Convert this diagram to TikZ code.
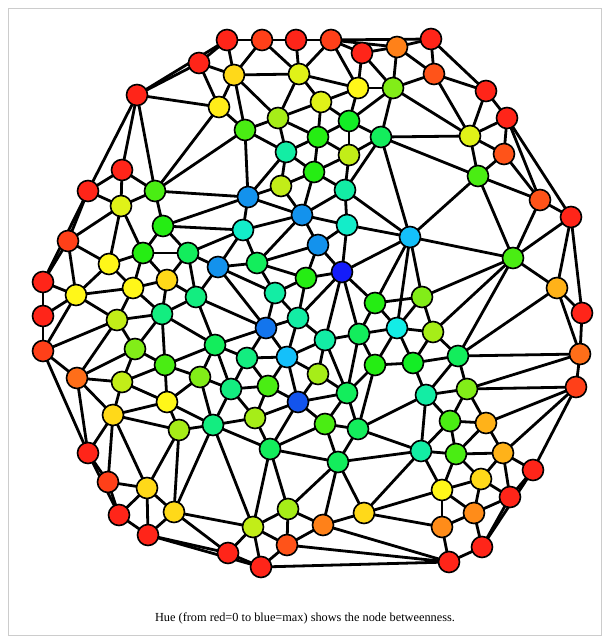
\PassOptionsToPackage{rgb}{xcolor}
\documentclass[tikz,border=0pt]{standalone}
\usepackage{fontspec}
\setmainfont{Liberation Serif}
\usetikzlibrary{backgrounds}
\definecolor{h3}{Hsb}{3,0.9,1}
\definecolor{h10}{Hsb}{10,0.9,1}
\definecolor{h15}{Hsb}{15,0.9,1}
\definecolor{h22}{Hsb}{22,0.9,1}
\definecolor{h25}{Hsb}{27,0.9,1}
\definecolor{h30}{Hsb}{30,0.9,1}
\definecolor{h40}{Hsb}{40,0.9,1}
\definecolor{h50}{Hsb}{50,0.9,1}
\definecolor{h55}{Hsb}{55,0.9,1}
\definecolor{h58}{Hsb}{58,0.9,1}
\definecolor{h65}{Hsb}{65,0.9,0.95}
\definecolor{h72}{Hsb}{72,0.9,0.93}
\definecolor{h80}{Hsb}{80,0.9,0.93}
\definecolor{h90}{Hsb}{90,0.9,0.93}
\definecolor{h105}{Hsb}{105,0.92,0.93}
\definecolor{h115}{Hsb}{115,0.92,0.93}
\definecolor{h125}{Hsb}{125,0.92,0.93}
\definecolor{h140}{Hsb}{140,0.92,0.93}
\definecolor{h150}{Hsb}{150,0.92,0.93}
\definecolor{h160}{Hsb}{160,0.92,0.93}
\definecolor{h170}{Hsb}{170,0.92,0.93}
\definecolor{h178}{Hsb}{178,0.92,0.93}
\definecolor{h195}{Hsb}{195,0.92,0.98}
\definecolor{h205}{Hsb}{205,0.92,0.93}
\definecolor{h215}{Hsb}{213,0.92,0.93}
\definecolor{h225}{Hsb}{222,0.92,0.93}
\definecolor{h238}{Hsb}{238,0.92,0.98}
\begin{document}
\begin{tikzpicture}[x=1pt,y=-1pt,
  nd/.style={circle,draw=black,line width=1.6pt,minimum size=21pt,inner sep=0pt,fill=h#1},
  edge/.style={line width=2.8pt,black}]
\useasboundingbox (0,0) rectangle (610,644);
\draw[black!20,line width=0.8pt] (8.5,8.5) rectangle (601.5,635.5);
\foreach \n/\x/\y/\h in {
 t1/227/40/3, t2/262/40/10, t3/296/40/3, t4/331/40/10, t5/362/53/3, t6/397/47/25,
 t7/431/39/3, t8/434/74/15, t9/486/91/3, t10/507/118/3, a1/199/63/3, a2/137/95/3,
 b1/234/75/50, b2/299/74/65, b3/358/88/58, b4/393/88/90, b5/470/136/65, b6/504/154/15, b7/478/176/105,
 c1/219/107/55, c2/278/118/80, c3/321/102/65, c4/349/121/125, c5/381/137/140, c6/245/130/105,
 c7/318/137/115, c8/349/155/72, c9/286/152/160, c10/314/172/115, c11/281/186/72, c12/345/190/160,
 c13/248/197/205, c14/302/215/205, c15/347/225/170, c16/243/230/170, c17/318/245/205, c18/410/237/195,
 c19/342/272/238, c20/306/278/115, c21/257/263/140, c22/218/267/205,
 l1/122/170/3, l2/88/191/3, l3/155/191/105, l4/121/206/65, l5/163/226/115, l6/68/241/10,
 l7/143/253/115, l8/188/253/140, l9/109/264/58, l10/43/282/3, l11/167/280/50, l12/133/288/58,
 l13/76/295/58, l14/196/297/150, l15/43/316/3, l16/117/320/72, l17/162/314/150, l18/43/351/10,
 l19/135/349/90, l20/215/345/140, l21/165/365/105, l22/200/377/90, l23/77/378/22, l24/122/382/72,
 l25/167/402/58, l26/113/415/50, l27/179/430/80, l28/213/425/150,
 m1/275/293/160, m2/375/303/115, m3/266/328/215, m4/298/318/160, m5/325/340/160, m6/359/334/140,
 m7/397/328/178, m8/422/297/90, m9/433/332/80, m10/413/363/125, m11/458/356/140, m12/426/395/160,
 m13/467/389/90, m14/231/389/150, m15/247/358/150, m16/287/357/195, m17/318/374/80, m18/375/365/115,
 m19/268/386/105, m20/298/402/225, m21/347/393/140, m22/255/418/80, m23/325/424/105, m24/358/429/140,
 m25/270/449/140, m26/338/462/140,
 r1/540/200/15, r2/571/217/3, r3/513/258/105, r4/557/288/40, r5/582/313/3, r6/580/354/22, r7/576/387/10,
 s1/450/421/105, s2/486/423/40, s3/421/451/160, s4/456/454/105, s5/503/453/40, s6/533/470/3,
 s7/481/479/50, s8/442/490/58, s9/510/497/3, s10/474/513/30, s11/442/527/30, s12/482/547/3, s13/449/562/3,
 u1/288/509/80, u2/253/527/72, u3/323/525/25, u4/364/513/50, u5/287/545/15, u6/228/553/3, u7/261/567/3,
 v1/88/453/3, v2/108/482/10, v3/147/488/50, v4/119/515/3, v5/174/512/50, v6/148/535/3}
 \node[nd=\h] (\n) at (\x,\y) {};
\begin{scope}[on background layer]
\foreach \a/\b in {
 t1/t2, t2/t3, t3/t4, t4/t5, t4/t6, t4/t7, t5/t6, t6/t7, t6/t8, t7/t8, t7/t9, t8/t9, t8/b4, t8/b5, t6/b4,
 t5/b3, t5/b4, t4/b3, t4/b2, t3/b2, t2/b2, t2/b1, t1/b1, t1/a1, t1/a2, a1/a2, a1/b1, a1/c1, a2/c1, b1/c1,
 b1/b2, b1/c2, b1/c6, c1/c6, c1/l3, c6/l3, c6/c2, c6/c13, c6/c9, b2/c2, b2/b3, b2/c3, b3/b4, b3/c3,
 b3/c4, b4/c4, b4/c5, b4/b5, c5/b5, t9/t10, t9/b5, t10/b5, t10/b6, b5/b6, b5/b7, b6/b7, t10/r1,
 t10/r2, b6/r1, b7/r1, b7/r3, r1/r2, r1/r3, r2/r3, r2/r4, r2/r5, r3/r4, r3/c18, b7/c18, c5/b7, c5/c18,
 c2/c3, c2/c7, c2/c9, c3/c4, c3/c7, c4/c7, c4/c8, c4/c5, c5/c8, c5/c12, c7/c8, c7/c9, c7/c10, c8/c10,
 c8/c12, c9/c10, c9/c11, c10/c11, c10/c14, c10/c12, c12/c14, c12/c15, c12/c18, c13/c14, c13/c16,
 c13/c9, c13/c11, c11/c14, c14/c15, c14/c16, c14/c17, c14/c21, c15/c17, c15/c18, c15/c19, c16/c22,
 c16/c21, c16/l5, c16/l8, c13/l3, c13/l5, c17/c21, c17/c20, c17/c19, c19/c20, c19/c18, c19/m2,
 c19/m4, c19/m5, c19/m6, c21/c22, c21/c20, c21/m1, c22/l14, c22/m1, c22/m3, c20/m1, c20/m4, c18/m2,
 c18/m7, c18/m8, r3/m8, r3/m9, r3/m11,
 a2/l1, a2/l2, a2/l3, l1/l2, l1/l3, l1/l4, l2/l4, l3/l4, l2/l6, l6/l10, l2/l10, l4/l6, l4/l7, l4/l9,
 l3/l5, l5/l7, l5/l8, l6/l9, l6/l13, l7/l9, l7/l8, l7/l11, l7/l12, l9/l12, l9/l13, l10/l13, l8/c22,
 l8/l14, l12/l13, l11/l12, l11/l14, l8/l11,
 l10/l15, l13/l15, l13/l16, l13/l18, l15/l18, l12/l16, l12/l17, l11/l17, l14/l17, l16/l17, l16/l18,
 l16/l19, l16/l23, l17/l19, l17/l21, l17/l20, l14/l20, l14/m3, l18/l23, l18/v1, l23/v1, l23/l19,
 l23/l24, l23/l26, l19/l21, l19/l24, l21/l20, l21/l22, l21/l25, l21/l24, l20/l22, l20/m3, l20/m15,
 l20/m14, l22/m14, l22/l25, l22/l28, l24/l25, l24/l26, l25/l26, l25/l27, l25/l28, l26/l27, l26/v1,
 l26/v2, l26/v3, l27/l28, l27/v3, l27/v5, l28/v5, l28/u2, l28/m22, l28/m25, l28/m14,
 v1/v2, v2/v4, v1/v4, v2/v3, v3/v4, v3/v5, v3/v6, v4/v6, v5/v6, v5/u6, v6/u6, v6/u7, v5/u2,
 m1/m3, m1/m4, m3/m4, m3/m15, m3/m16, m4/m16, m4/m5, m5/m16, m5/m17, m5/m6, m5/m21, m6/m2, m6/m7,
 m6/m18, m6/m21, m2/m7, m2/m8, m7/m8, m7/m9, m7/m10, m7/m18, m8/m9, m9/m10, m9/m11, m10/m11,
 m10/m12, m10/m18, m11/m12, m11/m13, m11/r4, m11/r6, m13/r6, m12/m13, m12/s1, m12/s3, m12/m24,
 m13/s1, m13/s2, m13/r7, m16/m15, m16/m19, m16/m17, m16/m20, m15/m14, m15/m19, m14/m19, m14/m22,
 m19/m20, m19/m22, m17/m20, m17/m21, m20/m21, m20/m22, m20/m23, m20/m25, m21/m23, m21/m24, m21/m18,
 m18/m24, m22/m25, m23/m24, m23/m25, m23/m26, m24/m26, m25/m26, m25/u1, m25/u2, m24/s3, m26/s3,
 m26/u1, m26/u3, m26/u4,
 r4/r5, r4/r6, r5/r6, r6/r7, r7/s2, r7/s5, r7/s6,
 s1/s2, s1/s3, s1/s4, s2/s4, s2/s5, s3/s4, s3/s8, s4/s5, s4/s7, s4/s8, s5/s7, s5/s6, s5/s9, s6/s9,
 s6/s12, s9/s12, s7/s8, s7/s9, s7/s10, s8/s10, s8/s11, s9/s10, s10/s11, s10/s12, s11/s13, s12/s13,
 u1/u2, u1/u3, u1/u5, u2/u5, u2/u6, u2/u7, u5/u7, u3/u5, u3/u4, u6/u7, u4/s3, u4/s8, u4/s11,
 u3/s13, u5/s13, u7/s13}
 \draw[edge] (\a.center) -- (\b.center);
\end{scope}
\node[font=\fontsize{12.3}{14}\selectfont] (cap) at (305,618) {Hue (from red=0 to blue=max) shows the node betweenness.};
\end{tikzpicture}
\end{document}
